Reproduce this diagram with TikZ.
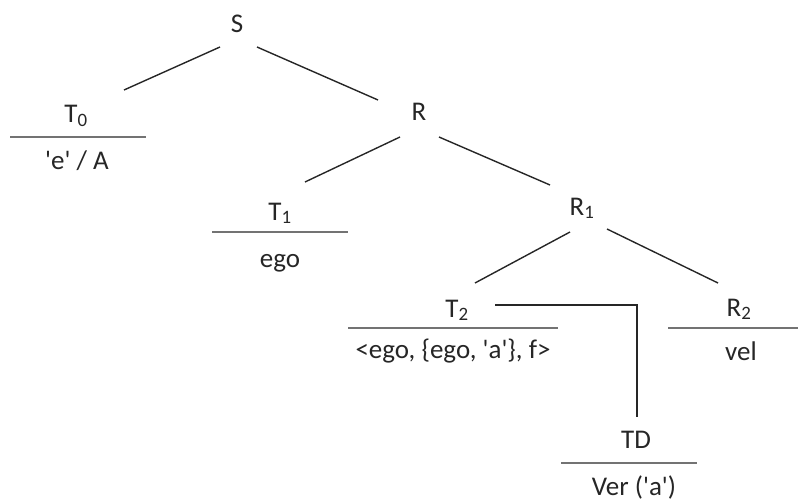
\documentclass[tikz,border=0pt]{standalone}
\usepackage{fontspec}
\setmainfont{Carlito}
\newcommand{\sq}{\textquotesingle}
\begin{document}
\begin{tikzpicture}[x=1pt,y=-1pt,
  lbl/.style={anchor=base,inner sep=0pt,font=\fontsize{27}{32}\selectfont,text=black!85},
  edge/.style={draw=black!85,line width=1.4pt},
  rule/.style={draw=black!55,line width=1.4pt}]
\useasboundingbox (0,0) rectangle (798,500);
% labels
\node[lbl] (S) at (237,33) {S};
\node[lbl] (T0) at (76,123) {T\textsubscript{0}};
\node[lbl] (T0v) at (77,170) {\sq e\sq{} / A};
\node[lbl] (R) at (419,121) {R};
\node[lbl] (T1) at (280,220) {T\textsubscript{1}};
\node[lbl] (T1v) at (280,267) {ego};
\node[lbl] (R1) at (582,215) {R\textsubscript{1}};
\node[lbl] (T2) at (457,317) {T\textsubscript{2}};
\node[lbl] (T2v) at (453,358) {<ego, \{ego, \sq a\sq\}, f>};
\node[lbl] (R2) at (739,316) {R\textsubscript{2}};
\node[lbl] (R2v) at (741,360) {vel};
\node[lbl] (TD) at (636,448) {TD};
\node[lbl] (TDv) at (634,495) {Ver (\sq a\sq)};
% rules
\draw[rule] (10,137) -- (146,137);
\draw[rule] (212,232) -- (348,232);
\draw[rule] (348,328) -- (558,328);
\draw[rule] (668,328) -- (798,328);
\draw[rule] (561,463) -- (697,463);
% connectors
\coordinate (sT0a) at (220,47); \coordinate (sT0b) at (124,90);
\coordinate (sRa) at (257,47); \coordinate (sRb) at (378,100);
\coordinate (rT1a) at (400,137); \coordinate (rT1b) at (305,182);
\coordinate (rR1a) at (439,137); \coordinate (rR1b) at (550,185);
\coordinate (r1T2a) at (570,232); \coordinate (r1T2b) at (475,283);
\coordinate (r1R2a) at (607,229); \coordinate (r1R2b) at (718,283);
\coordinate (t2a) at (495,305); \coordinate (t2c) at (637,305); \coordinate (t2b) at (637,417);
\draw[edge] (sT0a) -- (sT0b);
\draw[edge] (sRa) -- (sRb);
\draw[edge] (rT1a) -- (rT1b);
\draw[edge] (rR1a) -- (rR1b);
\draw[edge] (r1T2a) -- (r1T2b);
\draw[edge] (r1R2a) -- (r1R2b);
\draw[edge] (t2a) -- (t2c) -- (t2b);
\end{tikzpicture}
\end{document}
